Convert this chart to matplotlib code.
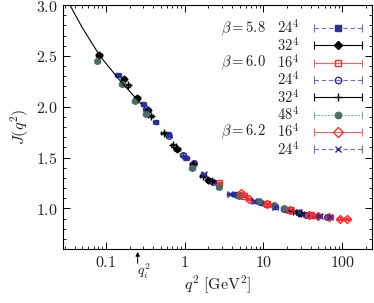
import numpy as np
import matplotlib
matplotlib.use("Agg")
import matplotlib.pyplot as plt
from matplotlib.ticker import LogLocator, MultipleLocator, FuncFormatter, NullFormatter
from matplotlib.container import ErrorbarContainer
from matplotlib.legend_handler import HandlerErrorbar

plt.rcParams['mathtext.fontset'] = 'cm'
plt.rcParams['font.family'] = 'DejaVu Serif'

# ---- data ----
# beta=5.8, 24^4
q_58_24 = [0.142, 0.30, 0.43, 0.62, 1.05, 2.1, 4.3, 9.5, 20, 45]
j_58_24 = [2.31, 2.03, 1.85, 1.73, 1.50, 1.27, 1.14, 1.05, 0.98, 0.93]
# beta=5.8, 32^4
q_58_32 = [0.082, 0.168, 0.248, 0.34, 0.80, 2.0, 28]
j_58_32 = [2.51, 2.27, 2.09, 1.97, 1.58, 1.28, 0.95]
# beta=6.0, 16^4
q_60_16 = [2.7, 5.6, 11, 22, 40]
j_60_16 = [1.25, 1.12, 1.04, 0.98, 0.94]
# beta=6.0, 24^4
q_60_24 = [0.32, 0.63, 0.95, 1.3, 2.3, 4.6, 9, 18, 35, 65]
j_60_24 = [1.98, 1.71, 1.53, 1.45, 1.26, 1.13, 1.06, 0.99, 0.94, 0.92]
# beta=6.0, 32^4
q_60_32 = [0.19, 0.37, 0.54, 0.72, 1.28, 1.7, 2.2, 24, 30]
j_60_32 = [2.21, 1.91, 1.74, 1.62, 1.44, 1.32, 1.27, 0.97, 0.95]
# beta=6.0, 48^4
q_60_48 = [0.078, 0.16, 0.236, 0.323, 1.24, 2.7, 4.9, 8.7, 13.5, 18]
j_60_48 = [2.45, 2.22, 2.06, 1.93, 1.40, 1.21, 1.12, 1.07, 1.03, 1.00]
# beta=6.2, 16^4
q_62_16 = [5.2, 6.5, 11, 22, 38, 50, 68, 93, 116]
j_62_16 = [1.15, 1.09, 1.04, 0.98, 0.94, 0.93, 0.92, 0.90, 0.895]
# beta=6.2, 24^4
q_62_24 = [1.74, 3.8, 7.5, 14, 28, 52, 70]
j_62_24 = [1.34, 1.14, 1.07, 1.01, 0.96, 0.93, 0.92]

# infrared fit curve
q_fit = [0.028, 0.035, 0.05, 0.084, 0.15, 0.25, 0.28]
j_fit = [3.12, 3.00, 2.78, 2.50, 2.26, 2.07, 2.03]

q_i = 0.253
x_rel_err = 0.08
y_err = 0.012

blue_dark = '#2e2e99'
blue_line = '#6a6ad4'
red = '#ff2a2a'
red_line = '#ff5c5c'
green = '#4b6e66'
green_line = '#6f9a8c'
txt = '#222222'

series = [
    (q_58_24, j_58_24, r'$\beta=5.8$', r'$24^4$', dict(marker='s', mfc=blue_dark, mec=blue_dark, ms=3.5), blue_line, (0, (4, 2.5)), 0.8),
    (q_58_32, j_58_32, None, r'$32^4$', dict(marker='D', mfc='black', mec='black', ms=3.5), 'black', '-', 0.8),
    (q_60_16, j_60_16, r'$\beta=6.0$', r'$16^4$', dict(marker='s', mfc='none', mec=red, ms=4), red_line, '-', 0.8),
    (q_60_24, j_60_24, None, r'$24^4$', dict(marker='o', mfc='none', mec=blue_dark, ms=4), blue_line, (0, (4, 2.5)), 0.8),
    (q_60_32, j_60_32, None, r'$32^4$', dict(marker='+', mfc='black', mec='black', ms=5.5), 'black', '-', 0.8),
    (q_60_48, j_60_48, None, r'$48^4$', dict(marker='o', mfc=green, mec=green, ms=4), green_line, (0, (2.5, 1.5)), 0.6),
    (q_62_16, j_62_16, r'$\beta=6.2$', r'$16^4$', dict(marker='D', mfc='none', mec=red, ms=4), red_line, '-', 0.8),
    (q_62_24, j_62_24, None, r'$24^4$', dict(marker='x', mfc=blue_dark, mec=blue_dark, ms=4), blue_line, (0, (4, 2.5)), 0.8),
]

fig = plt.figure(figsize=(3.74, 3.03), dpi=100)
ax = fig.add_axes([0.168, 0.178, 0.827, 0.805])

ax.plot(q_fit, j_fit, color='black', lw=0.8, zorder=4)

handles = []
for q, j, beta, lat, mk, lcol, ls, lw in series:
    q = np.array(q)
    j = np.array(j)
    ax.errorbar(q, j, xerr=q * x_rel_err, yerr=y_err, ls='none', ecolor=mk['mec'],
                elinewidth=0.9, capsize=1.2, zorder=3, **mk)
    # proxy for legend only
    pr = ax.errorbar([np.nan], [np.nan], xerr=[1.0], ls='none', ecolor=lcol,
                     elinewidth=lw, capsize=3, capthick=lw, label=lat, **mk)
    for lc in pr[2]:
        lc.set_linestyle(ls)
    handles.append(pr)

ax.set_xscale('log')
ax.set_xlim(0.0284, 240)
ax.set_ylim(0.6, 3.0)

ax.xaxis.set_major_locator(LogLocator(base=10, numticks=10))
ax.xaxis.set_minor_locator(LogLocator(base=10, subs=np.arange(2, 10), numticks=20))
ax.xaxis.set_minor_formatter(NullFormatter())
ax.xaxis.set_major_formatter(FuncFormatter(lambda v, p: '$%g$' % v))
ax.yaxis.set_major_locator(MultipleLocator(0.5))
ax.yaxis.set_minor_locator(MultipleLocator(0.1))
ax.yaxis.set_major_formatter(FuncFormatter(lambda v, p: '$%.1f$' % v))

ax.tick_params(which='both', direction='in', top=True, right=True, labelsize=11.5,
               labelcolor=txt)
ax.tick_params(which='major', length=5, width=0.7)
ax.tick_params(which='minor', length=2.5, width=0.6)
for s in ax.spines.values():
    s.set_linewidth(0.8)

ax.set_xlabel(r'$q^2\ [\mathrm{GeV}^2]$', fontsize=11.5, labelpad=2, color=txt)
ax.set_ylabel(r'$J(q^2)$', fontsize=11.5, labelpad=4, color=txt)

# q_i^2 marker below the axis
ax.annotate('', xy=(q_i, 0.0), xycoords=('data', 'axes fraction'),
            xytext=(q_i, -0.07), textcoords=('data', 'axes fraction'),
            arrowprops=dict(arrowstyle='-|>', color='black', lw=0.7, mutation_scale=6),
            annotation_clip=False)
ax.text(q_i * 1.18, -0.09, r'$q_i^2$', transform=ax.get_xaxis_transform(),
        ha='center', va='center', fontsize=10, color=txt)

leg = ax.legend(handles=handles, loc='upper right', frameon=False, markerfirst=False,
                fontsize=10.5, handlelength=3.3, handletextpad=1.0, labelspacing=-0.04,
                borderaxespad=0.0, bbox_to_anchor=(0.985, 0.97), markerscale=1.15,
                handler_map={ErrorbarContainer: HandlerErrorbar(xerr_size=1.65)})
for t in leg.get_texts():
    t.set_color(txt)

# beta labels to the left of the legend rows
fig.canvas.draw()
renderer = fig.canvas.get_renderer()
for (q, j, beta, lat, mk, lcol, ls, lw), t in zip(series, leg.get_texts()):
    if beta is None:
        continue
    bb = t.get_window_extent(renderer)
    fig.text(bb.x0 - 11, bb.y0 - 1.5, beta, transform=None, ha='right', va='bottom',
             fontsize=10.5, color=txt)

fig.savefig('out.png', dpi=100)
